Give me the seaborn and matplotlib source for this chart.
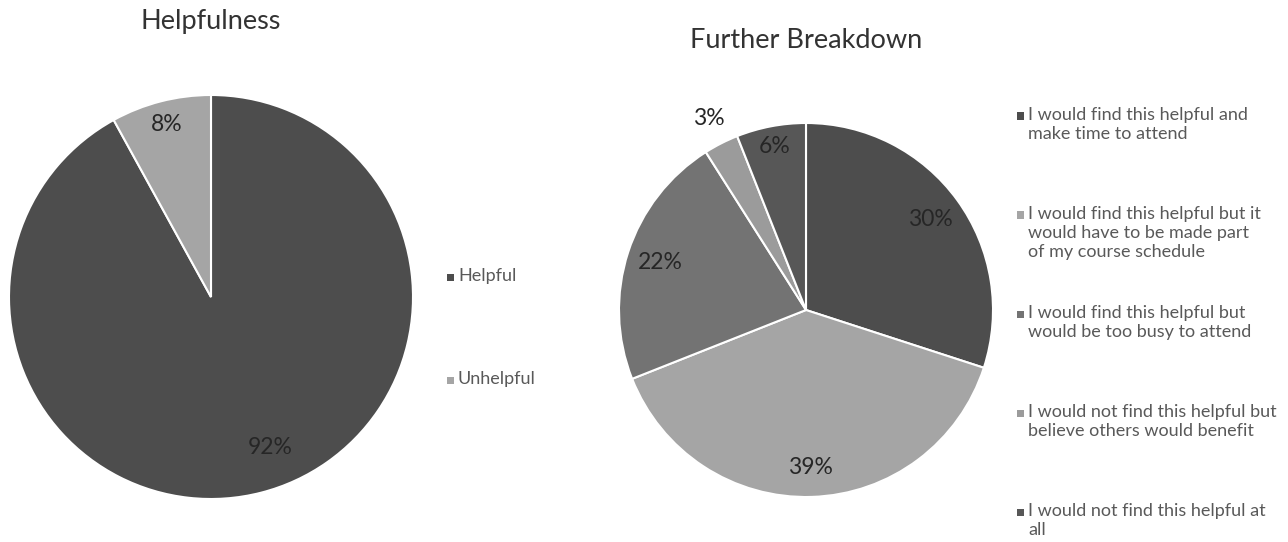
import numpy as np
import matplotlib
matplotlib.use("Agg")
import matplotlib.pyplot as plt
import seaborn as sns

# ---- data ----
left_title = "Helpfulness"
left_labels = ["Helpful", "Unhelpful"]
left_values = [92, 8]
left_colors = ["#4d4d4d", "#a5a5a5"]

right_title = "Further Breakdown"
right_labels = [
    "I would find this helpful and\nmake time to attend",
    "I would find this helpful but it\nwould have to be made part\nof my course schedule",
    "I would find this helpful but\nwould be too busy to attend",
    "I would not find this helpful but\nbelieve others would benefit",
    "I would not find this helpful at\nall",
]
right_values = [30, 39, 22, 3, 6]
right_colors = ["#4d4d4d", "#a5a5a5", "#737373", "#9b9b9b", "#575757"]

sns.set_theme(style="white")
plt.rcParams["font.family"] = ["Lato", "DejaVu Sans"]

W, H = 1288, 542
fig = plt.figure(figsize=(W / 100, H / 100), dpi=100)
fig.patch.set_facecolor("white")


def px_axes(cx, cy, r):
    return fig.add_axes([(cx - r) / W, (H - cy - r) / H, 2 * r / W, 2 * r / H])


def fx(x):
    return x / W


def fy(y):
    return 1 - y / H


def draw_pie(ax, values, colors, dists, angle_offsets):
    wedges, _ = ax.pie(values, colors=colors, startangle=90, counterclock=False,
                       radius=1.0, wedgeprops=dict(edgecolor="white", linewidth=1.5))
    ax.set_xlim(-1, 1)
    ax.set_ylim(-1, 1)
    ax.set_aspect("equal")
    ax.axis("off")
    for w, v, d, off in zip(wedges, values, dists, angle_offsets):
        mid = np.deg2rad((w.theta1 + w.theta2) / 2 + off)
        ax.text(d * np.cos(mid), d * np.sin(mid), f"{v}%", ha="center", va="center",
                fontsize=16.5, color="#262626")
    return wedges


def draw_legend(x, y0, step, labels, colors, line_gap):
    for i, (lab, col) in enumerate(zip(labels, colors)):
        y = y0 + i * step
        fig.patches.append(plt.Rectangle((fx(x - 11), fy(y + 3.5)), 7 / W, 7 / H,
                                         transform=fig.transFigure, facecolor=col,
                                         edgecolor="none", figure=fig))
        fig.text(fx(x), fy(y - 9), lab, ha="left", va="top",
                 fontsize=13.0, color="#595959", linespacing=line_gap)


# left pie
axL = px_axes(211, 297, 202)
draw_pie(axL, left_values, left_colors, [0.80, 0.88], [7, 0])
fig.text(fx(211), fy(22), left_title, ha="center", va="center", fontsize=19.5,
         color="#333333")
draw_legend(458, 277, 103, left_labels, left_colors, 1.22)

# right pie
axR = px_axes(806, 310, 187)
draw_pie(axR, right_values, right_colors, [0.82, 0.84, 0.82, 1.15, 0.89], [0, 0, 0, 0, 0])
fig.text(fx(806), fy(40), right_title, ha="center", va="center", fontsize=19.5,
         color="#333333")
draw_legend(1028, 116, 99, right_labels, right_colors, 1.22)

fig.savefig("out.png", dpi=100, facecolor="white")
